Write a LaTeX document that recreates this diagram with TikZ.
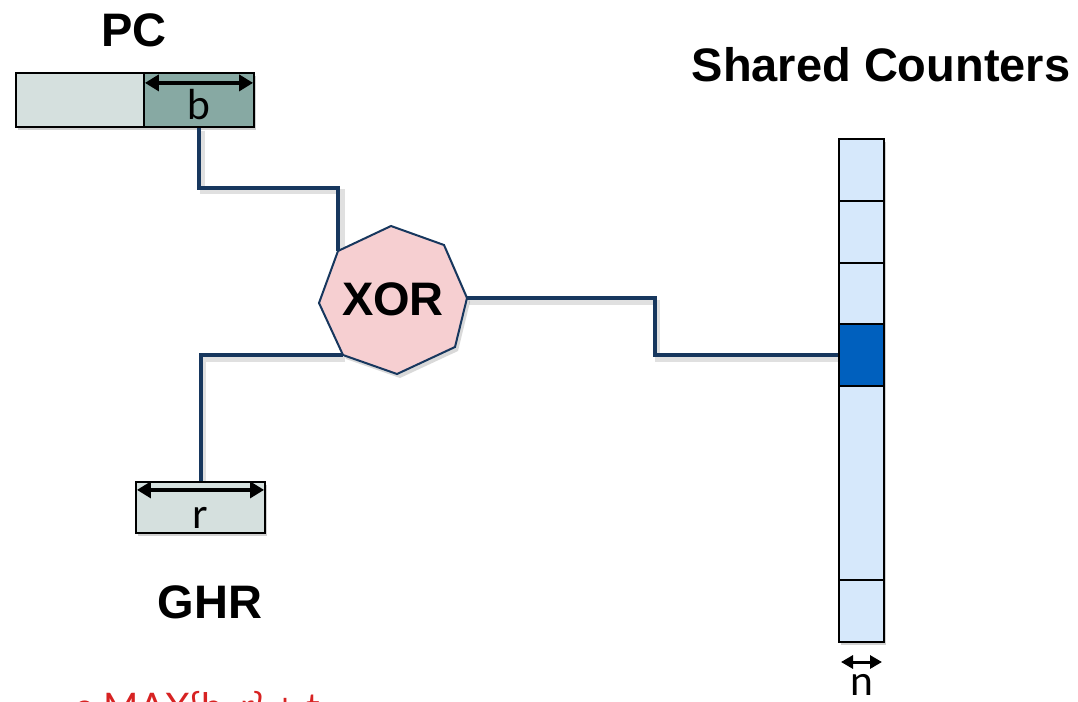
\documentclass[tikz,border=0pt]{standalone}
\usepackage{fontspec}
\setmainfont{Liberation Sans}
\newfontfamily\gill{Lato}
\usetikzlibrary{arrows.meta,shadows}
\definecolor{pclight}{RGB}{213,224,222}
\definecolor{pcdark}{RGB}{135,169,163}
\definecolor{ctrlight}{RGB}{214,232,251}
\definecolor{ctrdark}{RGB}{0,96,190}
\definecolor{xorfill}{RGB}{246,207,209}
\definecolor{navy}{RGB}{23,55,94}
\definecolor{redtxt}{RGB}{215,35,35}
\begin{document}
\begin{tikzpicture}[x=1pt,y=-1pt,
  shad/.style={drop shadow={shadow xshift=2pt,shadow yshift=-3pt,opacity=0.18,fill=black}},
  box/.style={draw=black,line width=2.2pt,inner sep=0pt,shad},
  title/.style={font=\fontsize{47}{47}\selectfont\bfseries,inner sep=0pt},
  small/.style={font=\gill\fontsize{41}{41}\selectfont,inner sep=0pt},
  wire/.style={draw=navy,line width=4pt,line join=miter},
  wshadow/.style={draw=black,opacity=0.12,line width=5pt},
  dim/.style={draw=black,line width=3.5pt,{Triangle[length=14pt,width=16pt]}-{Triangle[length=14pt,width=16pt]}},
]
\useasboundingbox (0,0) rectangle (1078,701);
\clip (0,0) rectangle (1078,701);

% titles
\node[title] (pct) at (134,30) {PC};
\node[title] (sct) at (881,65) {Shared Counters};
\node[title] (ghrt) at (210,602) {GHR};

% XOR octagon vertices
\coordinate (v1) at (391,226);
\coordinate (v2) at (444,245);
\coordinate (v3) at (467,298);
\coordinate (v4) at (455,347);
\coordinate (v5) at (397,374);
\coordinate (v6) at (343,355);
\coordinate (v7) at (319,303);
\coordinate (v8) at (338,251);

% wires shadows
\begin{scope}[shift={(2,4)}]
\draw[wshadow] (200,127) -- (200,187) -- (340,187) -- (340,251);
\draw[wshadow] (201,482) -- (201,355) -- (343,355);
\draw[wshadow] (467,298) -- (655,298) -- (655,355) -- (839,355);
\end{scope}

% PC register
\node[box,fill=pclight,minimum width=128pt,minimum height=54pt] (pca) at (80,100) {};
\node[box,fill=pcdark,minimum width=110pt,minimum height=54pt] (pcb) at (199,100) {};
\node[small,anchor=base] (bl) at (199,119) {b};
\draw[dim] ([xshift=2pt,yshift=-11pt]pcb.north west) -- ([xshift=-2pt,yshift=-11pt]pcb.north east);

% GHR register
\node[box,fill=pclight,minimum width=129pt,minimum height=51pt] (ghr) at (200.5,507.5) {};
\node[small,anchor=base] (rl) at (200,528) {r};
\draw[dim] ([xshift=2pt,yshift=-9pt]ghr.north west) -- ([xshift=-2pt,yshift=-9pt]ghr.north east);

% counters
\node[box,fill=ctrlight,minimum width=45pt,minimum height=62pt] (c1) at (861.5,170) {};
\node[box,fill=ctrlight,minimum width=45pt,minimum height=62pt] (c2) at (861.5,232) {};
\node[box,fill=ctrlight,minimum width=45pt,minimum height=61pt] (c3) at (861.5,293.5) {};
\node[box,fill=ctrdark,minimum width=45pt,minimum height=62pt] (c4) at (861.5,355) {};
\node[box,fill=ctrlight,minimum width=45pt,minimum height=194pt] (c5) at (861.5,483) {};
\node[box,fill=ctrlight,minimum width=45pt,minimum height=62pt] (c6) at (861.5,611) {};
\coordinate (nl) at (841,662);
\coordinate (nr) at (882,662);
\draw[draw=black,line width=3pt,{Triangle[length=12pt,width=13pt]}-{Triangle[length=12pt,width=13pt]}] (nl) -- (nr);
\node[small,anchor=base] (nt) at (862,695) {n};

% XOR gate
\fill[black,opacity=0.15] ([shift={(3,4)}]v1) -- ([shift={(3,4)}]v2) -- ([shift={(3,4)}]v3) -- ([shift={(3,4)}]v4) -- ([shift={(3,4)}]v5) -- ([shift={(3,4)}]v6) -- ([shift={(3,4)}]v7) -- ([shift={(3,4)}]v8) -- cycle;
\draw[fill=xorfill,draw=navy,line width=2pt,line join=miter] (v1) -- (v2) -- (v3) -- (v4) -- (v5) -- (v6) -- (v7) -- (v8) -- cycle;
\node[title] (xor) at (393,299) {XOR};

% wires
\draw[wire] (pcb.south) -- ++(0,60) -| (v8);
\draw[wire] (ghr.north) |- (v6);
\draw[wire] (v3) -- ++(188,0) |- (c4.west);

% red text (cut off at bottom, as in the reference)
\node[font=\gill\fontsize{38}{38}\selectfont,text=redtxt,anchor=base west,inner sep=0pt] (red) at (74,720) {e MAX\{b, r\} + t};
\end{tikzpicture}
\end{document}
